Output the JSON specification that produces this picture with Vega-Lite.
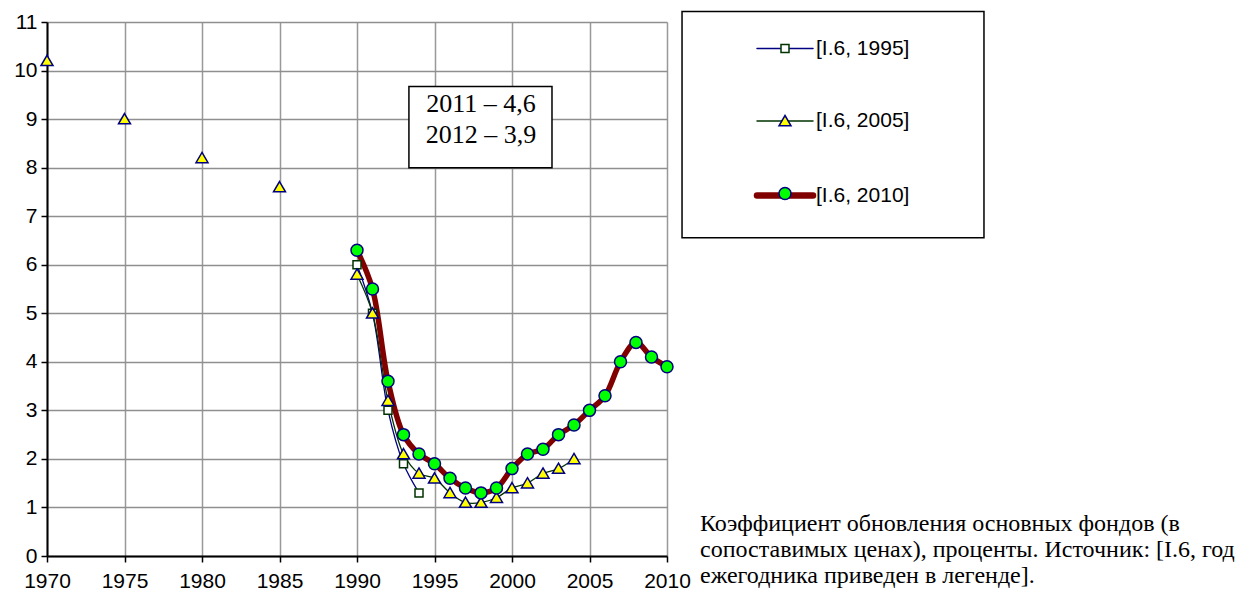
{
  "$schema": "https://vega.github.io/schema/vega-lite/v6.json",
  "width": 620,
  "height": 534,
  "autosize": {"type": "none"},
  "padding": {"left": 47, "top": 22, "right": 577, "bottom": 36},
  "background": "white",
  "config": {
    "view": {"stroke": null},
    "font": "Liberation Sans"
  },
  "title": {
    "text": ["Коэффициент обновления основных фондов (в", "сопоставимых ценах), проценты. Источник: [I.6, год", "ежегодника приведен в легенде]."],
    "orient": "bottom",
    "anchor": "start",
    "frame": "group",
    "align": "left",
    "baseline": "top",
    "dx": 653,
    "dy": -79,
    "offset": 0,
    "font": "Liberation Serif",
    "fontSize": 24,
    "fontWeight": "normal",
    "color": "black",
    "lineHeight": 26
  },
  "data": {
    "values": [
      {"year": 1990, "series": "[I.6, 1995]", "value": 6.0},
      {"year": 1991, "series": "[I.6, 1995]", "value": 5.0},
      {"year": 1992, "series": "[I.6, 1995]", "value": 3.0},
      {"year": 1993, "series": "[I.6, 1995]", "value": 1.9},
      {"year": 1994, "series": "[I.6, 1995]", "value": 1.3},
      {"year": 1970, "series": "[I.6, 2005]", "value": 10.2},
      {"year": 1975, "series": "[I.6, 2005]", "value": 9.0},
      {"year": 1980, "series": "[I.6, 2005]", "value": 8.2},
      {"year": 1985, "series": "[I.6, 2005]", "value": 7.6},
      {"year": 1990, "series": "[I.6, 2005]", "value": 5.8},
      {"year": 1991, "series": "[I.6, 2005]", "value": 5.0},
      {"year": 1992, "series": "[I.6, 2005]", "value": 3.2},
      {"year": 1993, "series": "[I.6, 2005]", "value": 2.1},
      {"year": 1994, "series": "[I.6, 2005]", "value": 1.7},
      {"year": 1995, "series": "[I.6, 2005]", "value": 1.6},
      {"year": 1996, "series": "[I.6, 2005]", "value": 1.3},
      {"year": 1997, "series": "[I.6, 2005]", "value": 1.1},
      {"year": 1998, "series": "[I.6, 2005]", "value": 1.1},
      {"year": 1999, "series": "[I.6, 2005]", "value": 1.2},
      {"year": 2000, "series": "[I.6, 2005]", "value": 1.4},
      {"year": 2001, "series": "[I.6, 2005]", "value": 1.5},
      {"year": 2002, "series": "[I.6, 2005]", "value": 1.7},
      {"year": 2003, "series": "[I.6, 2005]", "value": 1.8},
      {"year": 2004, "series": "[I.6, 2005]", "value": 2.0},
      {"year": 1990, "series": "[I.6, 2010]", "value": 6.3},
      {"year": 1991, "series": "[I.6, 2010]", "value": 5.5},
      {"year": 1992, "series": "[I.6, 2010]", "value": 3.6},
      {"year": 1993, "series": "[I.6, 2010]", "value": 2.5},
      {"year": 1994, "series": "[I.6, 2010]", "value": 2.1},
      {"year": 1995, "series": "[I.6, 2010]", "value": 1.9},
      {"year": 1996, "series": "[I.6, 2010]", "value": 1.6},
      {"year": 1997, "series": "[I.6, 2010]", "value": 1.4},
      {"year": 1998, "series": "[I.6, 2010]", "value": 1.3},
      {"year": 1999, "series": "[I.6, 2010]", "value": 1.4},
      {"year": 2000, "series": "[I.6, 2010]", "value": 1.8},
      {"year": 2001, "series": "[I.6, 2010]", "value": 2.1},
      {"year": 2002, "series": "[I.6, 2010]", "value": 2.2},
      {"year": 2003, "series": "[I.6, 2010]", "value": 2.5},
      {"year": 2004, "series": "[I.6, 2010]", "value": 2.7},
      {"year": 2005, "series": "[I.6, 2010]", "value": 3.0},
      {"year": 2006, "series": "[I.6, 2010]", "value": 3.3},
      {"year": 2007, "series": "[I.6, 2010]", "value": 4.0},
      {"year": 2008, "series": "[I.6, 2010]", "value": 4.4},
      {"year": 2009, "series": "[I.6, 2010]", "value": 4.1},
      {"year": 2010, "series": "[I.6, 2010]", "value": 3.9}
    ]
  },
  "layer": [
    {
      "transform": [{"filter": "datum.year >= 1990"}],
      "mark": {"type": "line", "interpolate": "catmull-rom", "strokeCap": "round", "strokeJoin": "round"},
      "encoding": {
        "x": {
          "field": "year", "type": "quantitative",
          "scale": {"domain": [1970, 2010], "nice": false, "zero": false},
          "axis": {
            "title": null,
            "values": [1970, 1975, 1980, 1985, 1990, 1995, 2000, 2005, 2010],
            "format": "d",
            "labelFontSize": 21, "labelColor": "black", "labelPadding": 8,
            "labelFlush": false, "labelOverlap": false, "labelBound": false,
            "tickSize": 6, "tickColor": "black", "tickWidth": 1.5,
            "domainColor": "black", "domainWidth": 2,
            "grid": true, "gridColor": "#999999", "gridWidth": 1.5
          }
        },
        "y": {
          "field": "value", "type": "quantitative",
          "scale": {"domain": [0, 11], "nice": false, "zero": true},
          "axis": {
            "title": null,
            "values": [0, 0.5, 1, 1.5, 2, 2.5, 3, 3.5, 4, 4.5, 5, 5.5, 6, 6.5, 7, 7.5, 8, 8.5, 9, 9.5, 10, 10.5, 11],
            "labelExpr": "datum.value % 1 === 0 ? datum.label : ''",
            "labelFontSize": 21, "labelColor": "black", "labelPadding": 4,
            "labelFlush": false, "labelOverlap": false, "labelBound": false,
            "tickSize": 6, "tickColor": "black", "tickWidth": 1.5,
            "tickOpacity": {"condition": {"test": "datum.value % 1 !== 0", "value": 0}, "value": 1},
            "domainColor": "black", "domainWidth": 2,
            "grid": true,
            "gridColor": {"condition": {"test": "datum.value % 1 !== 0", "value": "#c6c6c6"}, "value": "#8f8f8f"},
            "gridWidth": 1.5
          }
        },
        "color": {
          "field": "series", "type": "nominal",
          "scale": {"range": ["#000080", "#003300", "#800000"]},
          "legend": {
            "orient": "none", "legendX": 635, "legendY": -10,
            "title": null,
            "symbolType": "stroke", "symbolSize": 3136, "symbolStrokeWidth": 1.5,
            "symbolOffset": 66.5, "padding": 26, "rowPadding": 50.5,
            "labelFontSize": 21, "labelColor": "black", "labelOffset": 20.5, "labelLimit": 400,
            "encode": {"symbols": {"update": {
              "strokeWidth": {"signal": "datum.value === '[I.6, 2010]' ? 6.5 : 1.5"},
              "strokeCap": {"value": "round"}
            }}}
          }
        },
        "strokeWidth": {"condition": {"test": "datum.series === '[I.6, 2010]'", "value": 5.5}, "value": 1.3}
      }
    },
    {
      "mark": {"type": "point", "filled": true, "size": 100, "strokeWidth": 1.5, "opacity": 1},
      "encoding": {
        "x": {"field": "year", "type": "quantitative"},
        "y": {"field": "value", "type": "quantitative"},
        "shape": {
          "field": "series", "type": "nominal",
          "scale": {"range": ["M-0.8,-0.8H0.8V0.8H-0.8Z", "M0,-1.1L1.2,0.95L-1.2,0.95Z", "M-1.2,0A1.2,1.2 0 1,0 1.2,0A1.2,1.2 0 1,0 -1.2,0Z"]},
          "legend": {
            "orient": "none", "legendX": 635, "legendY": -10, "title": null,
            "symbolSize": 100, "symbolStrokeWidth": 1.5, "symbolOpacity": 1,
            "symbolOffset": 66.5, "padding": 26, "rowPadding": 50.5,
            "labelExpr": "'\u00a0'", "labelFontSize": 21, "labelOffset": 20.5
          }
        },
        "fill": {
          "field": "series", "type": "nominal",
          "scale": {"range": ["#ffffff", "#ffff00", "#00ff00"]},
          "legend": {
            "orient": "none", "legendX": 635, "legendY": -10, "title": null,
            "symbolSize": 100, "symbolStrokeWidth": 1.5, "symbolOpacity": 1,
            "symbolOffset": 66.5, "padding": 26, "rowPadding": 50.5,
            "labelExpr": "'\u00a0'", "labelFontSize": 21, "labelOffset": 20.5
          }
        },
        "stroke": {
          "field": "series", "type": "nominal",
          "scale": {"range": ["#003300", "#000080", "#000080"]},
          "legend": {
            "orient": "none", "legendX": 635, "legendY": -10, "title": null,
            "symbolSize": 100, "symbolStrokeWidth": 1.5, "symbolOpacity": 1,
            "symbolOffset": 66.5, "padding": 26, "rowPadding": 50.5,
            "labelExpr": "'\u00a0'", "labelFontSize": 21, "labelOffset": 20.5
          }
        }
      }
    },
    {
      "data": {"values": [{}]},
      "mark": {"type": "rect", "fill": "white", "stroke": "black", "strokeWidth": 1.5, "clip": false},
      "encoding": {
        "x": {"datum": 2010.97, "type": "quantitative"},
        "x2": {"datum": 2030.45},
        "y": {"datum": 11.216, "type": "quantitative"},
        "y2": {"datum": 6.557}
      }
    },
    {
      "data": {"values": [{}]},
      "mark": {"type": "rect", "fill": "white", "stroke": "black", "strokeWidth": 1.5},
      "encoding": {
        "x": {"datum": 1993.35, "type": "quantitative"},
        "x2": {"datum": 2002.58},
        "y": {"datum": 9.67, "type": "quantitative"},
        "y2": {"datum": 8.0}
      }
    },
    {
      "data": {"values": [{}]},
      "mark": {"type": "text", "font": "Liberation Serif", "fontSize": 26, "align": "center", "baseline": "alphabetic", "lineHeight": 31, "color": "black"},
      "encoding": {
        "x": {"datum": 1998.0, "type": "quantitative"},
        "y": {"datum": 9.155, "type": "quantitative"},
        "text": {"value": ["2011 – 4,6", "2012 – 3,9"]}
      }
    }
  ]
}
